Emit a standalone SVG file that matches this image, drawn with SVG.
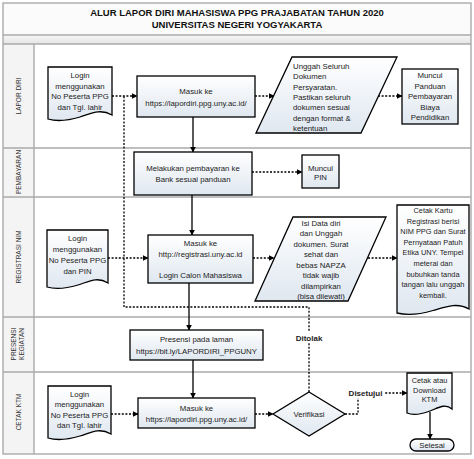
<svg xmlns="http://www.w3.org/2000/svg" width="474" height="459" viewBox="0 0 474 459">
<defs>
<linearGradient id="nodeFill" x1="0" y1="0" x2="0" y2="1">
<stop offset="0" stop-color="#ffffff"/>
<stop offset="1" stop-color="#dfe7f0"/>
</linearGradient>
<linearGradient id="bandFill" x1="0" y1="0" x2="0" y2="1">
<stop offset="0" stop-color="#f7f7f7"/>
<stop offset="1" stop-color="#e4e4e4"/>
</linearGradient>
<marker id="arr" viewBox="0 0 10 10" refX="9" refY="5" markerWidth="6" markerHeight="6" markerUnits="userSpaceOnUse" orient="auto">
<path d="M0,0 L10,5 L0,10 Z" fill="#000"/>
</marker>
<style>
.node{fill:url(#nodeFill);stroke:#000;stroke-width:1.3}
.t{font-family:"Liberation Sans",Arial,sans-serif;font-size:7.8px;fill:#222;text-anchor:middle}
.s{font-size:7.4px}
.tl{font-family:"Liberation Sans",Arial,sans-serif;font-size:7.8px;fill:#222;text-anchor:start}
.b{font-family:"Liberation Sans",Arial,sans-serif;font-size:8px;font-weight:bold;fill:#222;text-anchor:middle}
.title{font-family:"Liberation Sans",Arial,sans-serif;font-size:9.5px;font-weight:bold;fill:#111;text-anchor:middle}
.lane{font-family:"Liberation Sans",Arial,sans-serif;font-size:6.5px;fill:#333;text-anchor:middle}
.solid{fill:none;stroke:#000;stroke-width:1.3}
.dot{fill:none;stroke:#000;stroke-width:1.3;stroke-dasharray:2,1.6}
.lb{fill:none;stroke:#aaaaaa;stroke-width:1.4}
</style>
</defs>
<rect x="0" y="0" width="474" height="459" fill="#ffffff"/>

<g id="frame">
<rect x="3" y="3" width="468" height="32" fill="#fbfbfb"/>
<rect x="3" y="35" width="468" height="9" fill="url(#bandFill)"/>
<rect x="3" y="44" width="31" height="410" fill="#f4f4f4"/>
<rect x="3" y="3" width="468" height="451" class="lb"/>
<line x1="3" y1="35" x2="471" y2="35" class="lb"/>
<line x1="3" y1="44" x2="471" y2="44" class="lb"/>
<line x1="3" y1="148" x2="471" y2="148" class="lb"/>
<line x1="3" y1="197" x2="471" y2="197" class="lb"/>
<line x1="3" y1="317" x2="471" y2="317" class="lb"/>
<line x1="3" y1="372" x2="471" y2="372" class="lb"/>
<line x1="34" y1="44" x2="34" y2="454" class="lb"/>
<text class="title" x="237" y="15.5">ALUR LAPOR DIRI MAHASISWA PPG PRAJABATAN TAHUN 2020</text>
<text class="title" x="237" y="27.5">UNIVERSITAS NEGERI YOGYAKARTA</text>
<text class="lane" transform="translate(21,96) rotate(-90)">LAPOR DIRI</text>
<text class="lane" transform="translate(21,172) rotate(-90)">PEMBAYARAN</text>
<text class="lane" transform="translate(21,257) rotate(-90)">REGISTRASI NIM</text>
<text class="lane" transform="translate(16,344) rotate(-90)">PRESENSI</text>
<text class="lane" transform="translate(24,344) rotate(-90)">KEGIATAN</text>
<text class="lane" transform="translate(21,412) rotate(-90)">CETAK KTM</text>
</g>

<g id="connectors">
<path class="dot" d="M309,392 V307 H124 V96"/>
<path class="dot" d="M112,96 H137" marker-end="url(#arr)"/>
<path class="dot" d="M255,96 H274" marker-end="url(#arr)"/>
<path class="dot" d="M378,96 H402" marker-end="url(#arr)"/>
<path class="solid" d="M193,117 V152" marker-end="url(#arr)"/>
<path class="dot" d="M252,172 H302" marker-end="url(#arr)"/>
<path class="solid" d="M192,195 V235" marker-end="url(#arr)"/>
<path class="dot" d="M108,258 H148" marker-end="url(#arr)"/>
<path class="dot" d="M253,258 H274" marker-end="url(#arr)"/>
<path class="dot" d="M368,258 H397" marker-end="url(#arr)"/>
<path class="solid" d="M189,283 V330" marker-end="url(#arr)"/>
<path class="solid" d="M193,360 V398" marker-end="url(#arr)"/>
<path class="dot" d="M111,414 H138" marker-end="url(#arr)"/>
<path class="dot" d="M255,414 H273" marker-end="url(#arr)"/>
<path class="dot" d="M345,414 H358 V393 H407" marker-end="url(#arr)"/>
<path class="solid" d="M430,412 V439" marker-end="url(#arr)"/>
<rect x="293" y="332" width="32" height="11" fill="#ffffff"/>
<text class="b" x="309" y="341">Ditolak</text>
<rect x="347" y="387" width="37" height="11" fill="#ffffff"/>
<text class="b" x="365.5" y="396">Disetujui</text>
</g>

<g id="n1">
<path class="node" d="M48,67 H112 V115 C100,108 90,114 80,117 C70,120 58,122 48,119 Z"/>
<text class="t" x="80" y="78">Login</text>
<text class="t" x="80" y="88.5">menggunakan</text>
<text class="t" x="80" y="99">No Peserta PPG</text>
<text class="t" x="80" y="109.5">dan Tgl. lahir</text>
</g>

<g id="n2">
<rect class="node" x="137" y="76" width="118" height="41"/>
<text class="t" x="196" y="94">Masuk ke</text>
<text class="t" x="196" y="106">https://lapordiri.ppg.uny.ac.id/</text>
</g>

<g id="n3">
<path class="node" d="M292,57 H397 L361,133 H256 Z"/>
<text class="tl" x="293" y="69">Unggah Seluruh</text>
<text class="tl" x="293" y="79.3">Dokumen</text>
<text class="tl" x="293" y="89.6">Persyaratan.</text>
<text class="tl" x="293" y="99.9">Pastikan seluruh</text>
<text class="tl" x="293" y="110.2">dokumen sesuai</text>
<text class="tl" x="293" y="120.5">dengan format &amp;</text>
<text class="tl" x="293" y="130.8">ketentuan</text>
</g>

<g id="n4">
<rect class="node" x="402" y="69" width="56" height="55"/>
<text class="t" x="430" y="78">Muncul</text>
<text class="t" x="430" y="88.5">Panduan</text>
<text class="t" x="430" y="99">Pembayaran</text>
<text class="t" x="430" y="109.5">Biaya</text>
<text class="t" x="430" y="120">Pendidikan</text>
</g>

<g id="n5">
<rect class="node" x="134" y="152" width="118" height="43"/>
<text class="t" x="193" y="171">Melakukan pembayaran ke</text>
<text class="t" x="193" y="182">Bank sesuai panduan</text>
</g>

<g id="n6">
<rect class="node" x="302" y="155" width="37" height="33"/>
<text class="t" x="320.5" y="170.5">Muncul</text>
<text class="t" x="320.5" y="180">PIN</text>
</g>

<g id="n7">
<path class="node" d="M47,230 H108 V283 C97,276 88,282 78,285 C68,288 57,290 47,287 Z"/>
<text class="t" x="77.5" y="241">Login</text>
<text class="t" x="77.5" y="252">menggunakan</text>
<text class="t" x="77.5" y="263">No Peserta PPG</text>
<text class="t" x="77.5" y="273.5">dan PIN</text>
</g>

<g id="n8">
<rect class="node" x="148" y="235" width="105" height="48"/>
<text class="t" x="200.5" y="246">Masuk ke</text>
<text class="t" x="200.5" y="257">http://registrasi.uny.ac.id</text>
<text class="t" x="200.5" y="278">Login Calon Mahasiswa</text>
</g>

<g id="n9">
<path class="node" d="M293,217 H386 L348,301 H255 Z"/>
<text class="t" x="321" y="225.5">Isi Data diri</text>
<text class="t" x="321" y="236">dan Unggah</text>
<text class="t" x="321" y="246.5">dokumen. Surat</text>
<text class="t" x="321" y="257">sehat dan</text>
<text class="t" x="321" y="267.5">bebas NAPZA</text>
<text class="t" x="321" y="278">tidak wajib</text>
<text class="t" x="321" y="288.5">dilampirkan</text>
<text class="t" x="321" y="299">(bisa dilewati)</text>
</g>

<g id="n10">
<path class="node" d="M397,205 H469 V309 C457,302 445,307 433,310.5 C421,314 409,316 397,313 Z"/>
<text class="t s" x="433" y="213">Cetak Kartu</text>
<text class="t s" x="433" y="223.6">Registrasi berisi</text>
<text class="t s" x="433" y="234.2">NIM PPG dan Surat</text>
<text class="t s" x="433" y="244.8">Pernyataan Patuh</text>
<text class="t s" x="433" y="255.4">Etika UNY. Tempel</text>
<text class="t s" x="433" y="266">meterai dan</text>
<text class="t s" x="433" y="276.6">bubuhkan tanda</text>
<text class="t s" x="433" y="287.2">tangan lalu unggah</text>
<text class="t s" x="433" y="297.8">kembali.</text>
</g>

<g id="n11">
<rect class="node" x="130" y="330" width="133" height="30"/>
<text class="t" x="196.5" y="342">Presensi pada laman</text>
<text class="t" x="196.5" y="354">https://bit.ly/LAPORDIRI_PPGUNY</text>
</g>

<g id="n12">
<path class="node" d="M48,386 H111 V434 C99,427 90,433 80,436 C70,439 58,441 48,438 Z"/>
<text class="t" x="79.5" y="396.5">Login</text>
<text class="t" x="79.5" y="407">menggunakan</text>
<text class="t" x="79.5" y="417.5">No Peserta PPG</text>
<text class="t" x="79.5" y="428">dan Tgl. lahir</text>
</g>

<g id="n13">
<rect class="node" x="138" y="398" width="117" height="30"/>
<text class="t" x="196.5" y="411">Masuk ke</text>
<text class="t" x="196.5" y="421.5">https://lapordiri.ppg.uny.ac.id/</text>
</g>

<g id="n14">
<path class="node" d="M309,392 L345,414 L309,436 L273,414 Z"/>
<text class="t" x="309" y="417">Verifikasi</text>
</g>

<g id="n15">
<path class="node" d="M407,373 H452 V409 C445,403 438,408 430,411 C422,414 414,416 407,413 Z"/>
<text class="t s" x="429.5" y="383">Cetak atau</text>
<text class="t s" x="429.5" y="392.5">Download</text>
<text class="t s" x="429.5" y="402">KTM</text>
</g>

<g id="n16">
<rect class="node" x="410" y="439" width="44" height="12" rx="6" ry="6"/>
<text class="t" x="432" y="448">Selesai</text>
</g>
</svg>
